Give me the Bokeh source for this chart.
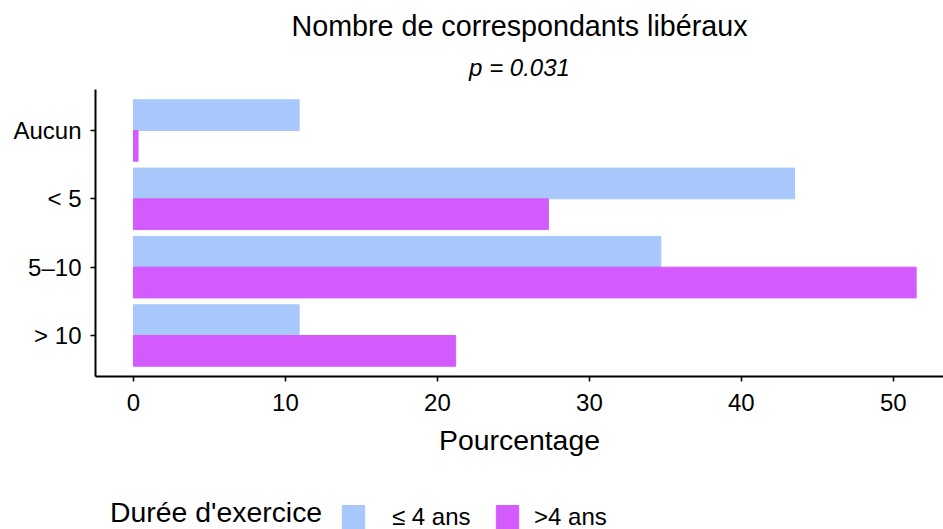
from bokeh.plotting import figure
from bokeh.layouts import column
from bokeh.models import (ColumnDataSource, Range1d, FixedTicker, Legend, LegendItem, Title)
from bokeh.embed import file_html
from bokeh.resources import INLINE

# ---- data ----
categories = ["Aucun", "< 5", "5\u201310", "> 10"]
le4_values = [10.9, 43.5, 34.7, 10.9]     # <= 4 ans
gt4_values = [0.3, 27.3, 51.5, 21.2]      # > 4 ans
series_labels = ["\u2264 4 ans", ">4 ans"]
x_ticks = [0, 10, 20, 30, 40, 50]
title_text = "Nombre de correspondants lib\u00e9raux"
subtitle_text = "p = 0.031"
x_label = "Pourcentage"
legend_title = "Dur\u00e9e d'exercice"

BLUE = "#A8C7FB"
PURPLE = "#D35BFE"
FONT = "Liberation Sans"

n = len(categories)
pos = [n - i for i in range(n)]  # top to bottom
src_a = ColumnDataSource(dict(y=[p_ + 0.225 for p_ in pos], v=le4_values))
src_b = ColumnDataSource(dict(y=[p_ - 0.225 for p_ in pos], v=gt4_values))

W = 943
H_MAIN = 490
H_LEG = 39

p = figure(width=W, height=H_MAIN, output_backend="svg", toolbar_location=None,
           x_range=Range1d(-2.5, 53.3), y_range=Range1d(0.4, n + 0.6),
           min_border_left=95, min_border_right=0, min_border_top=89,
           min_border_bottom=H_MAIN - 376)

ra = p.hbar(y="y", right="v", left=0, height=0.45, source=src_a, fill_color=BLUE,
            line_color=BLUE, line_width=1)
rb = p.hbar(y="y", right="v", left=0, height=0.45, source=src_b, fill_color=PURPLE,
            line_color=PURPLE, line_width=1)

p.add_layout(Title(text=subtitle_text, align="center", offset=6, text_font=FONT,
                   text_font_size="24px", text_font_style="italic", text_color="black",
                   standoff=17), "above")
p.add_layout(Title(text=title_text, align="center", offset=5, text_font=FONT,
                   text_font_size="28.7px", text_font_style="normal", text_color="black",
                   standoff=3), "above")

p.xgrid.visible = False
p.ygrid.visible = False
p.outline_line_color = None

p.xaxis.ticker = FixedTicker(ticks=x_ticks)
p.yaxis.ticker = FixedTicker(ticks=pos)
p.yaxis.major_label_overrides = {pp: c for pp, c in zip(pos, categories)}
p.xaxis.axis_label = x_label

for ax in (p.xaxis, p.yaxis):
    ax.axis_line_color = "black"
    ax.axis_line_width = 2
    ax.major_tick_line_color = "black"
    ax.major_tick_line_width = 1.5
    ax.major_tick_out = 5
    ax.major_tick_in = 0
    ax.minor_tick_line_color = None
    ax.major_label_text_font = FONT
    ax.major_label_text_font_size = "24px"
    ax.major_label_text_color = "black"
    ax.axis_label_text_font = FONT
    ax.axis_label_text_font_size = "28.4px"
    ax.axis_label_text_font_style = "normal"
    ax.axis_label_text_color = "black"

p.xaxis.major_label_standoff = 12
p.xaxis.axis_label_standoff = 10
p.yaxis.major_label_standoff = 9

# ---- legend strip below the plot (its frame is aligned with the main frame) ----
lf = figure(width=W, height=H_LEG, output_backend="svg", toolbar_location=None,
            x_range=Range1d(-200, -100), y_range=Range1d(0, H_LEG),
            x_axis_location=None, y_axis_location=None,
            min_border_left=0, min_border_right=0, min_border_top=0, min_border_bottom=0)
lf.xgrid.visible = False
lf.ygrid.visible = False
lf.outline_line_color = None

# legend proxies: same data, drawn outside the (clipped) visible range of this strip
da = lf.hbar(y="y", right="v", left=0, height=0.45, source=src_a,
             fill_color=BLUE, line_color=BLUE)
db = lf.hbar(y="y", right="v", left=0, height=0.45, source=src_b,
             fill_color=PURPLE, line_color=PURPLE)
dt = lf.hbar(y="y", right="v", left=0, height=0.45, source=src_a,
             fill_alpha=0, line_alpha=0)

common = dict(orientation="horizontal", label_text_font=FONT, label_text_color="black",
              border_line_color=None, background_fill_alpha=0,
              margin=0, padding=0)
leg_t = Legend(items=[LegendItem(label=legend_title, renderers=[dt])],
               location=(15, 0), glyph_width=0, glyph_height=28, label_standoff=0,
               label_text_font_size="28.4px", **common)
leg1 = Legend(items=[LegendItem(label=series_labels[0], renderers=[da])],
              location=(244, -3), glyph_width=28, glyph_height=30, label_standoff=25,
              label_text_font_size="24px", **common)
leg2 = Legend(items=[LegendItem(label=series_labels[1], renderers=[db])],
              location=(398, -3), glyph_width=28, glyph_height=30, label_standoff=13,
              label_text_font_size="24px", **common)
lf.add_layout(leg_t)
lf.add_layout(leg1)
lf.add_layout(leg2)

layout = column(p, lf, spacing=0)

with open("out.html", "w") as f:
    f.write(file_html(layout, INLINE))
